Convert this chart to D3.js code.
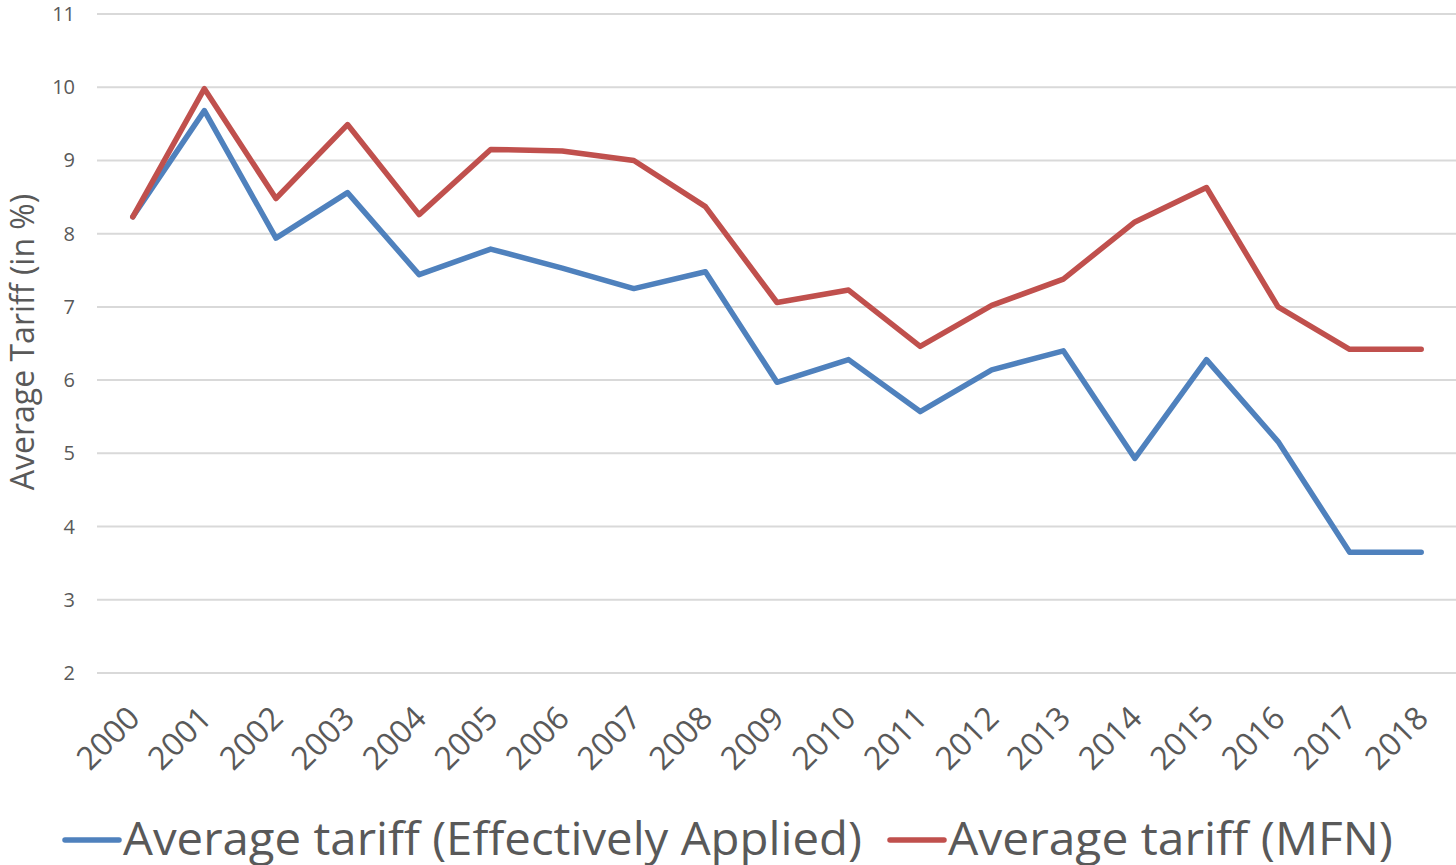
<!DOCTYPE html>
<html>
<head>
<meta charset="utf-8">
<script src="https://cdn.jsdelivr.net/npm/d3@7"></script>
<style>
  html, body { margin: 0; padding: 0; background: #fff; }
  svg { display: block; font-family: "Open Sans", sans-serif; }
</style>
</head>
<body>
<svg id="chart" width="1456" height="865"></svg>
<script>
const years = ['2000', '2001', '2002', '2003', '2004', '2005', '2006', '2007', '2008', '2009',
  '2010', '2011', '2012', '2013', '2014', '2015', '2016', '2017', '2018'];
const effectivelyApplied = [8.23, 9.68, 7.94, 8.56, 7.44, 7.79, 7.53, 7.25, 7.48, 5.97,
  6.28, 5.57, 6.14, 6.40, 4.93, 6.28, 5.16, 3.65, 3.65];
const mfn = [8.23, 9.98, 8.48, 9.49, 8.26, 9.15, 9.13, 9.0, 8.37, 7.06,
  7.23, 6.46, 7.02, 7.38, 8.16, 8.63, 7.0, 6.42, 6.42];
const yTicks = [2, 3, 4, 5, 6, 7, 8, 9, 10, 11];
const seriesNames = ['Average tariff (Effectively Applied)', 'Average tariff (MFN)'];
const seriesColors = ['#4f81bd', '#c0504d'];

const svg = d3.select('#chart');
const textColor = '#595959';

const x = d3.scalePoint().domain(years).range([97, 1457]).padding(0.5);
const y = d3.scaleLinear().domain([2, 11]).range([673, 14]);

// gridlines
svg.append('g')
  .selectAll('line')
  .data(yTicks)
  .join('line')
  .attr('x1', 97)
  .attr('x2', 1456)
  .attr('y1', d => y(d))
  .attr('y2', d => y(d))
  .attr('stroke', '#d9d9d9')
  .attr('stroke-width', 2);

// y tick labels
svg.append('g')
  .selectAll('text')
  .data(yTicks)
  .join('text')
  .attr('x', 75)
  .attr('y', d => y(d))
  .attr('dy', '0.35em')
  .attr('text-anchor', 'end')
  .attr('fill', textColor)
  .attr('font-size', 20)
  .text(d => d);

// x tick labels
svg.append('g')
  .selectAll('text')
  .data(years)
  .join('text')
  .attr('transform', d => `translate(${x(d) + 9},${720}) rotate(-45)`)
  .attr('text-anchor', 'end')
  .attr('fill', textColor)
  .attr('font-size', 32)
  .text(d => d);

// y axis title
svg.append('text')
  .attr('transform', 'translate(34,342) rotate(-90)')
  .attr('text-anchor', 'middle')
  .attr('fill', textColor)
  .attr('font-size', 32)
  .text('Average Tariff (in %)');

const line = d3.line()
  .x((d, i) => x(years[i]))
  .y(d => y(d));

[effectivelyApplied, mfn].forEach((vals, i) => {
  svg.append('path')
    .datum(vals)
    .attr('fill', 'none')
    .attr('stroke', seriesColors[i])
    .attr('stroke-width', 5.5)
    .attr('stroke-linejoin', 'round')
    .attr('stroke-linecap', 'round')
    .attr('d', line);
});

// legend
const legendItems = [
  { name: seriesNames[0], color: seriesColors[0], x: 65, len: 739 },
  { name: seriesNames[1], color: seriesColors[1], x: 890, len: 445 }
];
const legend = svg.append('g');
legendItems.forEach(item => {
  legend.append('line')
    .attr('x1', item.x)
    .attr('x2', item.x + 54)
    .attr('y1', 840)
    .attr('y2', 840)
    .attr('stroke', item.color)
    .attr('stroke-width', 5.5)
    .attr('stroke-linecap', 'round');
  legend.append('text')
    .attr('x', item.x + 58)
    .attr('y', 855)
    .attr('fill', textColor)
    .attr('font-size', 46)
    .attr('textLength', item.len)
    .attr('lengthAdjust', 'spacingAndGlyphs')
    .text(item.name);
});
</script>
</body>
</html>
